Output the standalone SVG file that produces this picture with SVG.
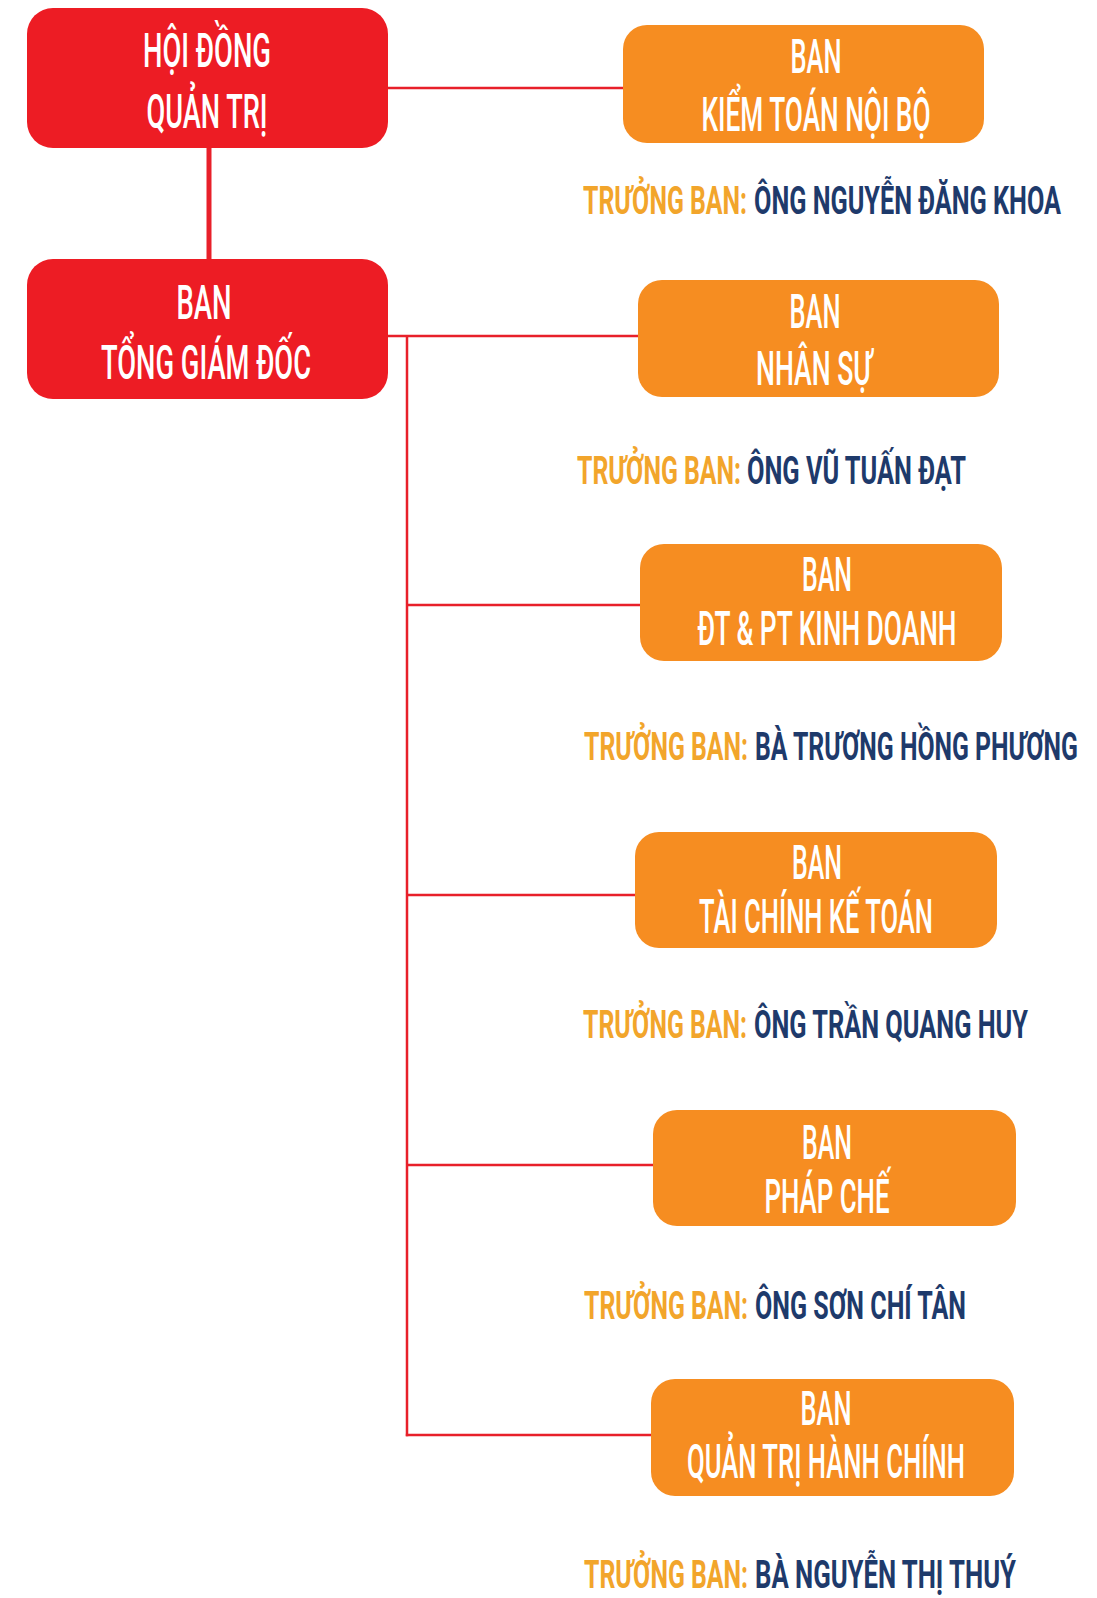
<svg xmlns="http://www.w3.org/2000/svg" width="1097" height="1598" viewBox="0 0 1097 1598">
<style>
.red{fill:#ED1C24}
.org{fill:#F68D21}
.bt{fill:#ffffff;font-family:Roboto,"Liberation Sans",sans-serif;font-weight:500;font-size:48px;text-anchor:middle}
.tb{fill:#F2A52B;font-family:Roboto,"Liberation Sans",sans-serif;font-weight:700;font-size:39px}
.nm{fill:#1E3A6B;font-family:Roboto,"Liberation Sans",sans-serif;font-weight:700;font-size:39px}
.ln{stroke:#E8202A;fill:none;stroke-width:2.5}
</style>
<rect width="1097" height="1598" fill="#ffffff"/>
<g id="connectors">
<line class="ln" x1="209" y1="146" x2="209" y2="260" style="stroke-width:5"/>
<line class="ln" x1="386" y1="88" x2="625" y2="88"/>
<line class="ln" x1="386" y1="336" x2="640" y2="336"/>
<line class="ln" x1="407" y1="336" x2="407" y2="1436.2"/>
<line class="ln" x1="406" y1="605" x2="642" y2="605"/>
<line class="ln" x1="406" y1="895" x2="637" y2="895"/>
<line class="ln" x1="406" y1="1165" x2="655" y2="1165"/>
<line class="ln" x1="405.8" y1="1435" x2="653" y2="1435"/>
</g>
<g id="hdqt">
<rect class="red" x="27" y="8" width="361" height="140" rx="26"/>
<text class="bt" x="207" y="67" textLength="128" lengthAdjust="spacingAndGlyphs">HỘI ĐỒNG</text>
<text class="bt" x="207" y="128" textLength="121" lengthAdjust="spacingAndGlyphs">QUẢN TRỊ</text>
</g>
<g id="tgd">
<rect class="red" x="27" y="259" width="361" height="140" rx="26"/>
<text class="bt" x="204" y="319" textLength="55" lengthAdjust="spacingAndGlyphs">BAN</text>
<text class="bt" x="206" y="379" textLength="210" lengthAdjust="spacingAndGlyphs">TỔNG GIÁM ĐỐC</text>
</g>
<g id="kiemtoan">
<rect class="org" x="623" y="25" width="361" height="118" rx="24"/>
<text class="bt" x="816" y="73" textLength="51" lengthAdjust="spacingAndGlyphs">BAN</text>
<text class="bt" x="816" y="131" textLength="229" lengthAdjust="spacingAndGlyphs">KIỂM TOÁN NỘI BỘ</text>
<text class="tb" x="583" y="214" textLength="164" lengthAdjust="spacingAndGlyphs">TRƯỞNG BAN:</text>
<text class="nm" x="754" y="214" textLength="307" lengthAdjust="spacingAndGlyphs">ÔNG NGUYỄN ĐĂNG KHOA</text>
</g>
<g id="nhansu">
<rect class="org" x="638" y="280" width="361" height="117" rx="24"/>
<text class="bt" x="815" y="328" textLength="51" lengthAdjust="spacingAndGlyphs">BAN</text>
<text class="bt" x="814" y="385" textLength="116" lengthAdjust="spacingAndGlyphs">NHÂN SỰ</text>
<text class="tb" x="577" y="484" textLength="164" lengthAdjust="spacingAndGlyphs">TRƯỞNG BAN:</text>
<text class="nm" x="747" y="484" textLength="219" lengthAdjust="spacingAndGlyphs">ÔNG VŨ TUẤN ĐẠT</text>
</g>
<g id="dtpt">
<rect class="org" x="640" y="544" width="362" height="117" rx="24"/>
<text class="bt" x="827" y="591" textLength="50" lengthAdjust="spacingAndGlyphs">BAN</text>
<text class="bt" x="827" y="645" textLength="259" lengthAdjust="spacingAndGlyphs">ĐT &amp; PT KINH DOANH</text>
<text class="tb" x="584" y="760" textLength="164" lengthAdjust="spacingAndGlyphs">TRƯỞNG BAN:</text>
<text class="nm" x="755" y="760" textLength="323" lengthAdjust="spacingAndGlyphs">BÀ TRƯƠNG HỒNG PHƯƠNG</text>
</g>
<g id="tckt">
<rect class="org" x="635" y="832" width="362" height="116" rx="24"/>
<text class="bt" x="817" y="879" textLength="50" lengthAdjust="spacingAndGlyphs">BAN</text>
<text class="bt" x="816" y="933" textLength="234" lengthAdjust="spacingAndGlyphs">TÀI CHÍNH KẾ TOÁN</text>
<text class="tb" x="583" y="1038" textLength="164" lengthAdjust="spacingAndGlyphs">TRƯỞNG BAN:</text>
<text class="nm" x="754" y="1038" textLength="274" lengthAdjust="spacingAndGlyphs">ÔNG TRẦN QUANG HUY</text>
</g>
<g id="phapche">
<rect class="org" x="653" y="1110" width="363" height="116" rx="24"/>
<text class="bt" x="827" y="1159" textLength="50" lengthAdjust="spacingAndGlyphs">BAN</text>
<text class="bt" x="827" y="1213" textLength="125" lengthAdjust="spacingAndGlyphs">PHÁP CHẾ</text>
<text class="tb" x="584" y="1319" textLength="164" lengthAdjust="spacingAndGlyphs">TRƯỞNG BAN:</text>
<text class="nm" x="755" y="1319" textLength="211" lengthAdjust="spacingAndGlyphs">ÔNG SƠN CHÍ TÂN</text>
</g>
<g id="qthc">
<rect class="org" x="651" y="1379" width="363" height="117" rx="24"/>
<text class="bt" x="826" y="1425" textLength="51" lengthAdjust="spacingAndGlyphs">BAN</text>
<text class="bt" x="826" y="1478" textLength="278" lengthAdjust="spacingAndGlyphs">QUẢN TRỊ HÀNH CHÍNH</text>
<text class="tb" x="584" y="1588" textLength="164" lengthAdjust="spacingAndGlyphs">TRƯỞNG BAN:</text>
<text class="nm" x="755" y="1588" textLength="261" lengthAdjust="spacingAndGlyphs">BÀ NGUYỄN THỊ THUÝ</text>
</g>
</svg>
